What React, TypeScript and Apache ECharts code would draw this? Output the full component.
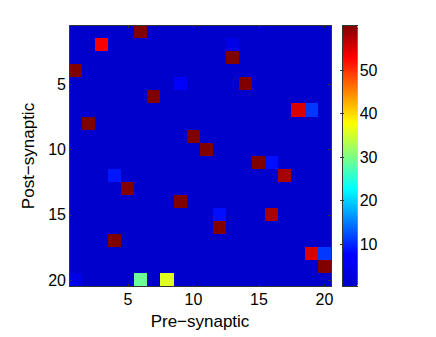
import React, { useEffect, useRef } from "react";
import * as echarts from "echarts";

// Categories (neuron indices)
const preNeurons = ["1","2","3","4","5","6","7","8","9","10","11","12","13","14","15","16","17","18","19","20"];
const postNeurons = ["1","2","3","4","5","6","7","8","9","10","11","12","13","14","15","16","17","18","19","20"];

// Background weight of every unlisted cell
const baseWeight = 0.2;

// Non-background cells: pre index, post index, weight
const cellPre = [6, 3, 13, 13, 1, 9, 14, 7, 18, 19, 2, 10, 11, 15, 16, 4, 17, 5, 9, 12, 16, 12, 4, 19, 20, 20, 1, 6, 8];
const cellPost = [1, 2, 2, 3, 4, 5, 5, 6, 7, 7, 8, 9, 10, 11, 11, 12, 12, 13, 14, 15, 15, 16, 17, 18, 18, 19, 20, 20, 20];
const cellWeight = [60.3, 53, 4, 60.3, 60.3, 7.5, 60.3, 60.3, 55, 11, 60.3, 60.3, 60.3, 60.3, 8.5, 9, 58, 60.3, 60.3, 8.5, 58, 60.3, 60.3, 55, 11, 60.3, 4, 29, 36];

// Colour scale
const colorMin = 0.2;
const colorMax = 60.3;
const colorbarTicks = [10, 20, 30, 40, 50];
const jetColors = ["#0000CC", "#0000FF", "#0080FF", "#00FFFF", "#80FF80", "#FFFF00", "#FF8000", "#FF0000", "#800000"];

const FONT = "'Liberation Sans', Arial, Helvetica, sans-serif";
const AX = "#333333";

export default function App() {
  const ref = useRef<HTMLDivElement>(null);

  useEffect(() => {
    document.body.style.margin = "0";
    if (!ref.current) return;
    const chart = echarts.init(ref.current, undefined, { renderer: "svg" });

    const weights: number[][] = postNeurons.map(() => preNeurons.map(() => baseWeight));
    cellPre.forEach((p, k) => {
      weights[cellPost[k] - 1][p - 1] = cellWeight[k];
    });
    const data: number[][] = [];
    weights.forEach((row, i) => row.forEach((v, j) => data.push([j, i, v])));

    const every5 = (index: number) => (index + 1) % 5 === 0;

    const plot = { left: 69, top: 25.3, width: 262, height: 261.4 };
    const bar = { left: 342.3, top: 25.3, width: 15.4, height: 261.4 };

    chart.setOption({
      animation: false,
      textStyle: { fontFamily: FONT },
      grid: [
        { ...plot, containLabel: false },
        { ...bar, containLabel: false },
      ],
      xAxis: [
        {
          type: "category",
          gridIndex: 0,
          data: preNeurons,
          position: "bottom",
          name: "Pre\u2212synaptic",
          nameLocation: "middle",
          nameGap: 22,
          nameTextStyle: { fontSize: 17, color: "#000", fontFamily: FONT },
          z: 5,
          axisLine: { show: true, lineStyle: { color: AX, width: 1 } },
          axisTick: { show: true, inside: true, length: 3, alignWithLabel: true, interval: every5, lineStyle: { color: AX } },
          axisLabel: { interval: every5, fontSize: 16, color: "#000", margin: 5, fontFamily: FONT },
          splitLine: { show: false },
        },
        {
          type: "category",
          gridIndex: 0,
          data: preNeurons,
          position: "top",
          z: 5,
          axisLine: { show: true, lineStyle: { color: AX, width: 1 } },
          axisTick: { show: true, inside: true, length: 3, alignWithLabel: true, interval: every5, lineStyle: { color: AX } },
          axisLabel: { show: false },
          splitLine: { show: false },
        },
        {
          type: "value",
          gridIndex: 1,
          min: 0,
          max: 1,
          position: "bottom",
          z: 5,
          axisLine: { show: true, lineStyle: { color: AX } },
          axisTick: { show: false },
          axisLabel: { show: false },
          splitLine: { show: false },
        },
        {
          type: "value",
          gridIndex: 1,
          min: 0,
          max: 1,
          position: "top",
          z: 5,
          axisLine: { show: true, lineStyle: { color: AX } },
          axisTick: { show: false },
          axisLabel: { show: false },
          splitLine: { show: false },
        },
      ],
      yAxis: [
        {
          type: "category",
          gridIndex: 0,
          data: postNeurons,
          inverse: true,
          position: "left",
          name: "Post\u2212synaptic",
          nameLocation: "middle",
          nameGap: 25,
          nameTextStyle: { fontSize: 17, color: "#000", fontFamily: FONT },
          z: 5,
          axisLine: { show: true, lineStyle: { color: AX, width: 1 } },
          axisTick: { show: true, inside: true, length: 3, alignWithLabel: true, interval: every5, lineStyle: { color: AX } },
          axisLabel: { interval: every5, fontSize: 16, color: "#000", margin: 3, fontFamily: FONT },
          splitLine: { show: false },
        },
        {
          type: "category",
          gridIndex: 0,
          data: postNeurons,
          inverse: true,
          position: "right",
          z: 5,
          axisLine: { show: true, lineStyle: { color: AX, width: 1 } },
          axisTick: { show: true, inside: true, length: 3, alignWithLabel: true, interval: every5, lineStyle: { color: AX } },
          axisLabel: { show: false },
          splitLine: { show: false },
        },
        {
          type: "value",
          gridIndex: 1,
          min: colorMin,
          max: colorMax,
          position: "right",
          z: 5,
          axisLine: { show: true, lineStyle: { color: AX } },
          axisTick: { show: true, inside: true, length: 2, customValues: colorbarTicks, lineStyle: { color: AX } },
          axisLabel: { show: true, customValues: colorbarTicks, fontSize: 16, color: "#000", margin: 2, fontFamily: FONT },
          splitLine: { show: false },
        },
        {
          type: "value",
          gridIndex: 1,
          min: colorMin,
          max: colorMax,
          position: "left",
          z: 5,
          axisLine: { show: true, lineStyle: { color: AX } },
          axisTick: { show: true, inside: true, length: 2, customValues: colorbarTicks, lineStyle: { color: AX } },
          axisLabel: { show: false },
          splitLine: { show: false },
        },
      ],
      visualMap: {
        type: "continuous",
        min: colorMin,
        max: colorMax,
        seriesIndex: 0,
        calculable: false,
        realtime: false,
        hoverLink: false,
        orient: "vertical",
        left: bar.left,
        top: bar.top,
        itemWidth: bar.width,
        itemHeight: bar.height,
        padding: 0,
        text: ["", ""],
        showLabel: false,
        inRange: { color: jetColors },
        z: 2,
      },
      series: [
        {
          type: "heatmap",
          xAxisIndex: 0,
          yAxisIndex: 0,
          data,
          itemStyle: { borderWidth: 0 },
          emphasis: { disabled: true },
          silent: true,
          z: 1,
        },
      ],
    });

    return () => chart.dispose();
  }, []);

  return (
    <>
      <style>{".chart-box svg path { shape-rendering: crispEdges; }"}</style>
      <div className="chart-box" ref={ref} style={{ width: 436, height: 337 }} />
    </>
  );
}
